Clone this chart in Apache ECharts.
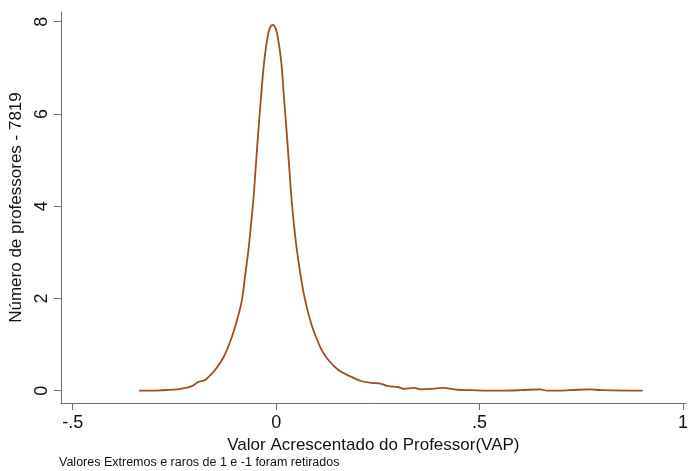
<!DOCTYPE html>
<html>
<head>
<meta charset="utf-8">
<script src="https://cdn.jsdelivr.net/npm/echarts@6/dist/echarts.min.js"></script>
<style>
  html, body { margin: 0; padding: 0; background: #fff; }
  #main { width: 691px; height: 471px; }
</style>
</head>
<body>
<div id="main"></div>
<script>
// kernel density curve
var vap = [-0.337, -0.304, -0.273, -0.243, -0.224, -0.207, -0.191, -0.175, -0.166, -0.150,
  -0.129, -0.109, -0.094, -0.084, -0.076, -0.068, -0.062, -0.056, -0.050, -0.044, -0.0375,
  -0.031, -0.026, -0.021, -0.016, -0.0085, -0.001, 0.004, 0.009, 0.014,
  0.0195, 0.026, 0.032, 0.038, 0.044, 0.051, 0.060, 0.071, 0.087, 0.101, 0.112, 0.128,
  0.153, 0.185, 0.209, 0.233, 0.253, 0.274, 0.299, 0.314, 0.339, 0.356, 0.384,
  0.409, 0.446, 0.478, 0.544, 0.600, 0.649, 0.666, 0.720, 0.771, 0.800, 0.901];
var densidade = [0.00, 0.00, 0.015, 0.03, 0.06, 0.10, 0.19, 0.23, 0.30, 0.45,
  0.73, 1.16, 1.60, 1.97, 2.51, 3.05, 3.58, 4.14, 4.86, 5.59, 6.33,
  7.00, 7.38, 7.66, 7.85, 7.93, 7.85, 7.66, 7.38, 7.00,
  6.33, 5.59, 4.86, 4.14, 3.58, 3.05, 2.51, 1.97, 1.43, 1.10, 0.88, 0.67,
  0.45, 0.30, 0.21, 0.17, 0.16, 0.10, 0.08, 0.04, 0.06, 0.03, 0.04,
  0.06, 0.02, 0.01, 0.00, 0.01, 0.03, 0.00, 0.01, 0.03, 0.01, 0.00];
var xTicks = [-0.5, 0, 0.5, 1];
var yTicks = [0, 2, 4, 6, 8];

function stataNum(v) {
  // Stata writes .5 and -.5 without the leading zero
  var s = String(v);
  return s.replace(/^0\./, '.').replace(/^-0\./, '-.');
}

var pontos = [];
for (var i = 0; i < vap.length; i++) {
  pontos.push([vap[i], densidade[i]]);
}

var myChart = echarts.init(document.getElementById('main'));
var fonte = '"Liberation Sans", Arial, sans-serif';
var eixo = '#6e6e6e';

var option = {
  backgroundColor: '#fff',
  animation: false,
  grid: { left: 58, right: 5, top: 12, bottom: 68 },
  xAxis: {
    type: 'value',
    min: -0.529,
    max: 1.007,
    name: 'Valor Acrescentado do Professor(VAP)',
    nameLocation: 'middle',
    nameGap: 31,
    nameTextStyle: { fontFamily: fonte, fontSize: 17, color: '#111' },
    axisLine: { onZero: false, lineStyle: { color: eixo, width: 1 } },
    axisTick: { show: true, length: 7, customValues: xTicks, lineStyle: { color: eixo } },
    axisLabel: {
      customValues: xTicks, margin: 11, fontFamily: fonte, fontSize: 18, color: '#111',
      formatter: stataNum
    },
    splitLine: { show: false }
  },
  yAxis: {
    type: 'value',
    min: -0.267,
    max: 8.21,
    name: 'Número de professores - 7819',
    nameLocation: 'middle',
    nameRotate: 90,
    nameGap: 34,
    nameTextStyle: { fontFamily: fonte, fontSize: 17, color: '#111' },
    axisLine: { show: true, onZero: false, lineStyle: { color: eixo, width: 1 } },
    axisTick: { show: true, length: 7, customValues: yTicks, lineStyle: { color: eixo } },
    axisLabel: {
      customValues: yTicks, rotate: 90, margin: 10, fontFamily: fonte, fontSize: 18, color: '#111',
      formatter: stataNum
    },
    splitLine: { show: false }
  },
  graphic: [{
    type: 'text',
    left: 59,
    top: 456,
    style: {
      text: 'Valores Extremos e raros de 1 e -1 foram retirados',
      fontFamily: fonte,
      fontSize: 12.5,
      fill: '#111'
    }
  }],
  series: [{
    type: 'line',
    data: pontos,
    showSymbol: false,
    smooth: 0.4,
    lineStyle: { color: '#9e4f1e', width: 1.8 }
  }]
};

myChart.setOption(option);
</script>
</body>
</html>
